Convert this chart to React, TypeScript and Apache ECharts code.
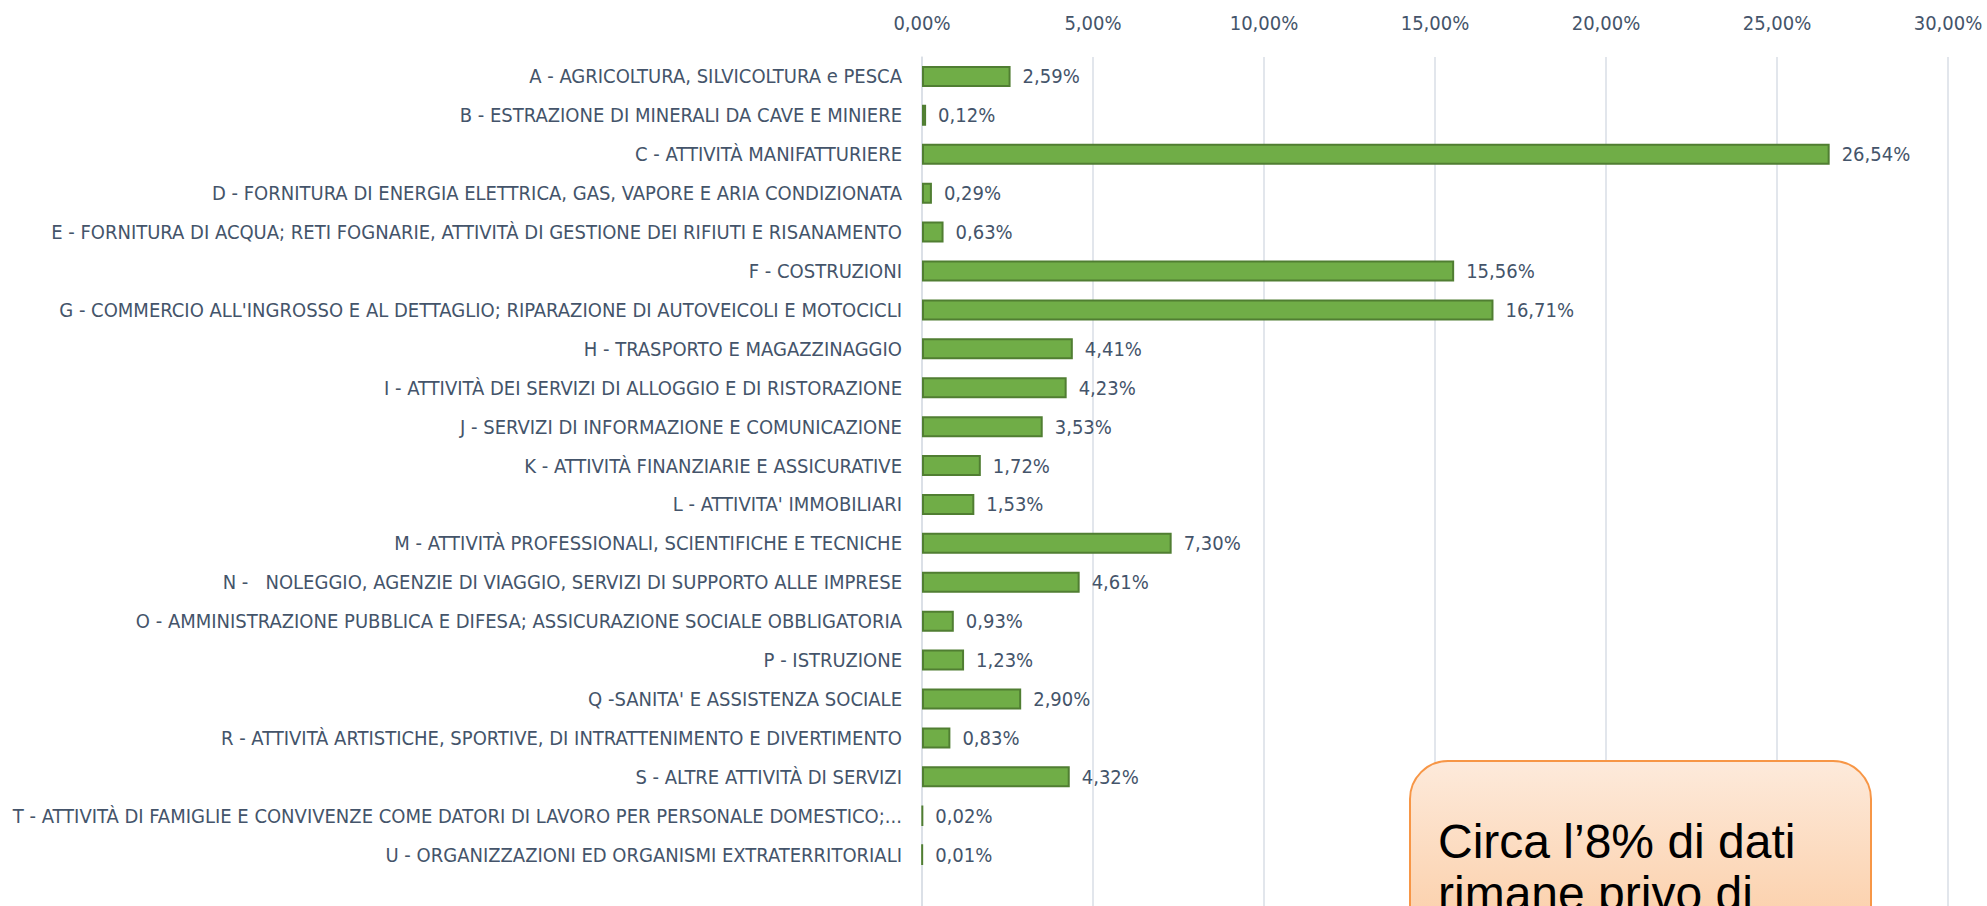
import React, { useEffect, useRef } from "react";
import * as echarts from "echarts";

const categories = [
  "A - AGRICOLTURA, SILVICOLTURA e PESCA",
  "B - ESTRAZIONE DI MINERALI DA CAVE E MINIERE",
  "C - ATTIVITÀ MANIFATTURIERE",
  "D - FORNITURA DI ENERGIA ELETTRICA, GAS, VAPORE E ARIA CONDIZIONATA",
  "E - FORNITURA DI ACQUA; RETI FOGNARIE, ATTIVITÀ DI GESTIONE DEI RIFIUTI E RISANAMENTO",
  "F - COSTRUZIONI",
  "G - COMMERCIO ALL'INGROSSO E AL DETTAGLIO; RIPARAZIONE DI AUTOVEICOLI E MOTOCICLI",
  "H - TRASPORTO E MAGAZZINAGGIO",
  "I - ATTIVITÀ DEI SERVIZI DI ALLOGGIO E DI RISTORAZIONE",
  "J - SERVIZI DI INFORMAZIONE E COMUNICAZIONE",
  "K - ATTIVITÀ FINANZIARIE E ASSICURATIVE",
  "L - ATTIVITA' IMMOBILIARI",
  "M - ATTIVITÀ PROFESSIONALI, SCIENTIFICHE E TECNICHE",
  "N -   NOLEGGIO, AGENZIE DI VIAGGIO, SERVIZI DI SUPPORTO ALLE IMPRESE",
  "O - AMMINISTRAZIONE PUBBLICA E DIFESA; ASSICURAZIONE SOCIALE OBBLIGATORIA",
  "P - ISTRUZIONE",
  "Q -SANITA' E ASSISTENZA SOCIALE",
  "R - ATTIVITÀ ARTISTICHE, SPORTIVE, DI INTRATTENIMENTO E DIVERTIMENTO",
  "S - ALTRE ATTIVITÀ DI SERVIZI",
  "T - ATTIVITÀ DI FAMIGLIE E CONVIVENZE COME DATORI DI LAVORO PER PERSONALE DOMESTICO;...",
  "U - ORGANIZZAZIONI ED ORGANISMI EXTRATERRITORIALI",
];

const shares = [
  2.59, 0.12, 26.54, 0.29, 0.63, 15.56, 16.71, 4.41, 4.23, 3.53, 1.72, 1.53,
  7.3, 4.61, 0.93, 1.23, 2.9, 0.83, 4.32, 0.02, 0.01,
];

const noteLines = ["Circa l’8% di dati", "rimane privo di"];

const fmt = (v: number) => v.toFixed(2).replace(".", ",") + "%";

const FONT = "'Liberation Sans Narrow', 'DejaVu Sans Condensed', 'Liberation Sans', sans-serif";
const TEXT_COLOR = "#44546A";
const GRID_COLOR = "#D9DEE6";

export default function App() {
  const ref = useRef<HTMLDivElement>(null);

  useEffect(() => {
    document.body.style.margin = "0";
    const chart = echarts.init(ref.current!, null, { renderer: "svg" });
    chart.setOption({
      animation: false,
      backgroundColor: "#ffffff",
      grid: {
        left: 922,
        width: 1026,
        top: 57,
        height: 856,
        containLabel: false,
        outerBoundsMode: "none",
      },
      xAxis: {
        type: "value",
        position: "top",
        min: 0,
        max: 30,
        interval: 5,
        axisLine: { show: false },
        axisTick: { show: false },
        splitLine: { lineStyle: { color: GRID_COLOR, width: 1.5 } },
        axisLabel: {
          formatter: (v: number) => fmt(v),
          color: TEXT_COLOR,
          fontFamily: FONT,
          fontSize: 20,
          margin: 24,
        },
      },
      yAxis: {
        type: "category",
        inverse: true,
        data: categories,
        max: categories.length,
        axisLine: { show: true, lineStyle: { color: GRID_COLOR, width: 1.5 } },
        axisTick: { show: false },
        axisLabel: {
          interval: 0,
          margin: 20,
          color: TEXT_COLOR,
          fontFamily: FONT,
          fontSize: 20,
          formatter: (v: any) => (categories.includes(v) ? v : ""),
        },
      },
      series: [
        {
          type: "bar",
          data: shares,
          barWidth: 21,
          itemStyle: { color: "#70AD47", borderColor: "#507E32", borderWidth: 2 },
          label: {
            show: true,
            position: "right",
            distance: 12,
            color: TEXT_COLOR,
            fontFamily: FONT,
            fontSize: 20,
            formatter: (p: any) => fmt(p.value),
          },
        },
      ],
      graphic: [
        {
          type: "rect",
          left: 1409,
          top: 760,
          shape: { width: 461, height: 220, r: 38 },
          style: {
            fill: new echarts.graphic.LinearGradient(0, 0, 0, 1, [
              { offset: 0, color: "#FDEADB" },
              { offset: 1, color: "#FBC79A" },
            ]),
            stroke: "#F79646",
            lineWidth: 2,
          },
          z: 100,
        },
        {
          type: "text",
          left: 1438,
          top: 815,
          style: {
            text: noteLines.join("\n"),
            fill: "#000000",
            font: "48px 'Liberation Sans', Arial, sans-serif",
            lineHeight: 52,
          },
          z: 101,
        },
      ],
    });
    return () => chart.dispose();
  }, []);

  return <div ref={ref} style={{ width: 1987, height: 906 }} />;
}
